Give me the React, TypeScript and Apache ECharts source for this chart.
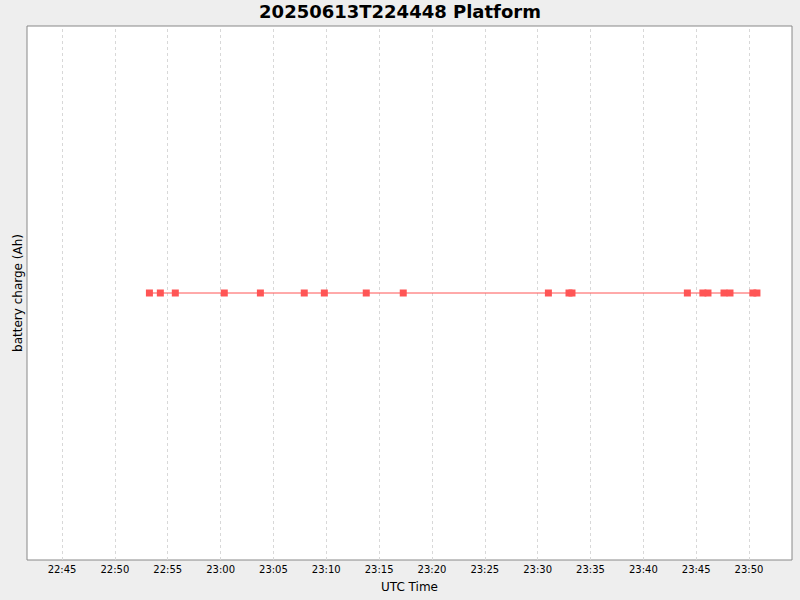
import React, { useEffect, useRef } from "react";
import * as echarts from "echarts";

const DATE = "2025-06-13";
const sampleTimes = [
  "22:53:16", "22:54:18", "22:55:43", "23:00:21", "23:03:46", "23:07:55",
  "23:09:49", "23:13:47", "23:17:17", "23:31:01", "23:32:58", "23:33:15",
  "23:44:10", "23:45:38", "23:46:07", "23:47:38", "23:48:12", "23:50:22", "23:50:45",
];
const chargeValues = [
  0, 0, 0, 0, 0, 0, 0, 0, 0, 0, 0, 0, 0, 0, 0, 0, 0, 0, 0,
];
const tickLabels = [
  "22:45", "22:50", "22:55", "23:00", "23:05", "23:10", "23:15",
  "23:20", "23:25", "23:30", "23:35", "23:40", "23:45", "23:50",
];
const axisStart = "22:41:41";
const axisEnd = "23:54:04";

const ts = (t: string) => Date.parse(`${DATE}T${t}Z`);
const tickValues = tickLabels.map((t) => ts(t + ":00"));

export default function App() {
  const ref = useRef<HTMLDivElement>(null);
  useEffect(() => {
    if (!ref.current) return;
    const chart = echarts.init(ref.current, undefined, { renderer: "svg" });
    const pad = (n: number) => (n < 10 ? "0" + n : "" + n);
    chart.setOption({
      animation: false,
      backgroundColor: "#EEEEEE",
      title: {
        text: "20250613T224448 Platform",
        left: "center",
        top: -3,
        textStyle: { fontFamily: "DejaVu Sans", fontWeight: "bold", fontSize: 18, color: "#000" },
      },
      grid: {
        left: 27, right: 8, top: 26, bottom: 40,
        outerBoundsMode: "none",
        containLabel: false,
        show: true, backgroundColor: "#FFFFFF", borderColor: "#888888", borderWidth: 1,
      },
      xAxis: {
        type: "value",
        min: ts(axisStart),
        max: ts(axisEnd),
        name: "UTC Time",
        nameLocation: "middle",
        nameGap: 21,
        nameTextStyle: { fontFamily: "DejaVu Sans", fontSize: 12, color: "#000" },
        axisLine: { show: false },
        axisTick: { show: true, length: 2, lineStyle: { color: "#888888" }, customValues: tickValues },
        axisLabel: {
          fontFamily: "DejaVu Sans",
          fontSize: 10,
          color: "#000",
          margin: 4,
          customValues: tickValues,
          formatter: (v: number) => {
            const d = new Date(v);
            return pad(d.getUTCHours()) + ":" + pad(d.getUTCMinutes());
          },
        },
        splitLine: { show: false },
      },
      yAxis: {
        type: "value",
        min: -1,
        max: 1,
        name: "battery charge (Ah)",
        nameLocation: "middle",
        nameGap: 3,
        nameTextStyle: { fontFamily: "DejaVu Sans", fontSize: 12, color: "#000" },
        axisLine: { show: false },
        axisTick: { show: false },
        axisLabel: { show: false },
        splitLine: { show: false },
      },
      series: [
        {
          type: "line",
          data: sampleTimes.map((t, i) => [ts(t), chargeValues[i]]),
          symbol: "rect",
          symbolSize: 7,
          itemStyle: { color: "#FF5555" },
          lineStyle: { color: "#FF5555", width: 1 },
          z: 3,
          markLine: {
            silent: true,
            symbol: "none",
            label: { show: false },
            lineStyle: { color: "#D8D8D8", type: [3, 3], width: 1 },
            data: tickValues.map((v) => ({ xAxis: v })),
            z: 1,
          },
        },
      ],
    });
    return () => chart.dispose();
  }, []);
  return <div ref={ref} style={{ width: 800, height: 600, position: "absolute", left: 0, top: 0 }} />;
}
